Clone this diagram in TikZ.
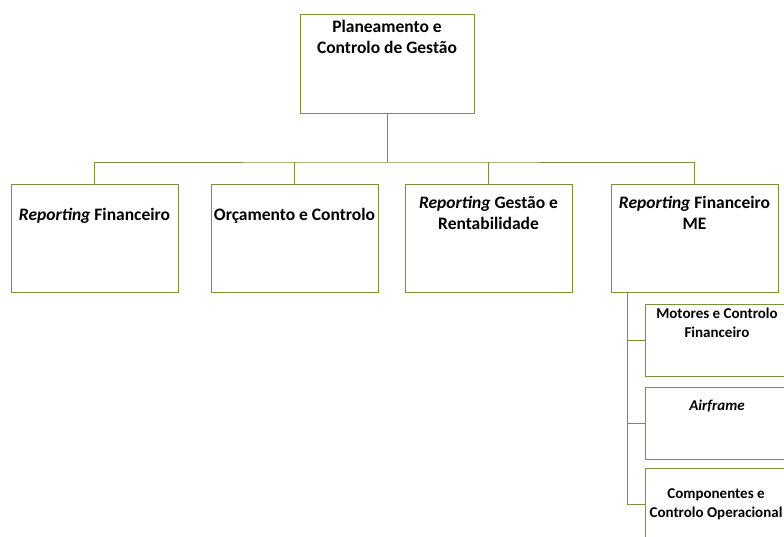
\documentclass[tikz,border=0pt]{standalone}
\usepackage{fontspec}
\setmainfont{Carlito}
\usetikzlibrary{positioning}
\definecolor{boxgreen}{RGB}{119,147,60}

\tikzset{
  orgbox/.style={draw=boxgreen, line width=1pt, rectangle, inner sep=0pt,
    minimum width=167pt, minimum height=108pt},
  subbox/.style={orgbox, minimum width=145pt, minimum height=72pt},
  orgtext/.style={font=\bfseries\fontsize{17.5}{20.5}\selectfont, align=center, inner sep=0pt},
  subtext/.style={orgtext, font=\bfseries\fontsize{15}{19}\selectfont},
  orgline/.style={draw=boxgreen, line width=1pt}
}

\begin{document}
\begin{tikzpicture}[x=1pt,y=-1pt]
    \useasboundingbox (0,0) rectangle (784,536);
    \clip (0,0) rectangle (784,536);

    % top level
    \node[orgbox, minimum width=174pt, minimum height=99pt] (pcg) at (387,63.5) {};
    \node[orgtext] (pcgtext) at (387,37) {Planeamento e\\Controlo de Gestão};

    % second level
    \node[orgbox] (rf) at (94.5,238) {};
    \node[orgbox] (oc) at (294.5,238) {};
    \node[orgbox] (rgr) at (488.5,238) {};
    \node[orgbox] (rfme) at (694.5,238) {};
    \node[orgtext] (rftext) at (94.5,216) {\textit{Reporting} Financeiro};
    \node[orgtext] (octext) at (294.5,216) {Orçamento e Controlo};
    \node[orgtext] (rgrtext) at (488.5,213) {\textit{Reporting} Gestão e\\Rentabilidade};
    \node[orgtext] (rfmetext) at (694.5,213) {\textit{Reporting} Financeiro\\ME};

    % third level
    \node[subbox] (mcf) at (717.5,340) {};
    \node[subbox] (air) at (717.5,423) {};
    \node[subbox] (cco) at (717.5,504) {};
    \node[subtext] (mcftext) at (717,322.5) {Motores e Controlo\\Financeiro};
    \node[subtext] (airtext) at (717,406) {\textit{Airframe}};
    \node[subtext] (ccotext) at (716,504.5) {Componentes e\\Controlo Operacional};

    % connectors
    \coordinate (bus) at (387,162);
    \coordinate (spine) at (627,292);
    \draw[orgline] (pcg.south) -- (bus);
    \draw[orgline] (rf.north) |- (bus) -| (rfme.north);
    \draw[orgline] (oc.north) -- (oc.north |- bus);
    \draw[orgline] (rgr.north) -- (rgr.north |- bus);
    \draw[orgline] (spine) |- (mcf.west);
    \draw[orgline] (spine) |- (air.west);
    \draw[orgline] (spine) |- (cco.west);
\end{tikzpicture}
\end{document}
